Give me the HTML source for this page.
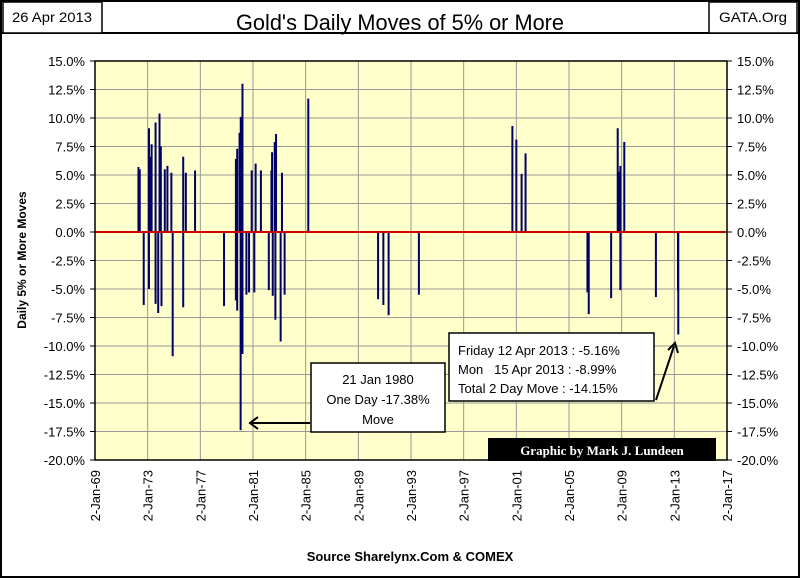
<!DOCTYPE html>
<html><head><meta charset="utf-8"><style>
body{margin:0;background:#fff}
svg{display:block;font-family:"Liberation Sans",sans-serif}
</style></head><body>
<svg id="chart" width="800" height="580" viewBox="0 0 800 580">
<rect x="0" y="0" width="800" height="580" fill="#fff"/>
<rect x="1" y="1" width="798" height="576" fill="none" stroke="#000" stroke-width="2"/>
<line x1="0" y1="33" x2="800" y2="33" stroke="#000" stroke-width="2"/>
<rect x="3" y="2" width="99" height="31" fill="#fff" stroke="#000" stroke-width="1.5"/>
<text x="52" y="22" font-size="14" text-anchor="middle" textLength="80" lengthAdjust="spacingAndGlyphs">26 Apr 2013</text>
<rect x="709" y="2" width="88" height="31" fill="#fff" stroke="#000" stroke-width="1.5"/>
<text x="753" y="22" font-size="14" text-anchor="middle" textLength="68" lengthAdjust="spacingAndGlyphs">GATA.Org</text>
<text x="400" y="30" font-size="22" text-anchor="middle" textLength="328" lengthAdjust="spacingAndGlyphs">Gold's Daily Moves of 5% or More</text>
<rect x="95" y="61" width="632" height="399" fill="#ffffcc"/>
<g id="grid"></g>
<g id="bars"></g>
<line id="zero" stroke="#cc0000" stroke-width="2"/>
<rect x="95" y="61" width="632" height="399" fill="none" stroke="#000" stroke-width="1.5"/>
<g id="labels" font-size="13"></g>
<text transform="translate(26,260) rotate(-90)" font-size="12" font-weight="bold" text-anchor="middle">Daily 5% or More Moves</text>
<text x="410" y="561" font-size="13" font-weight="bold" text-anchor="middle">Source Sharelynx.Com &amp; COMEX</text>
<rect x="311" y="363" width="134" height="69" fill="#fff" stroke="#000" stroke-width="1.5"/>
<text x="378" y="384" font-size="13" text-anchor="middle">21 Jan 1980</text>
<text x="378" y="404" font-size="13" text-anchor="middle">One Day -17.38%</text>
<text x="378" y="424" font-size="13" text-anchor="middle">Move</text>
<line x1="310" y1="423" x2="252" y2="423" stroke="#000" stroke-width="2"/>
<polyline points="258,417 250,423 258,429" fill="none" stroke="#000" stroke-width="2"/>
<rect x="449" y="333" width="205" height="68" fill="#fff" stroke="#000" stroke-width="1.5"/>
<text x="458" y="355" font-size="13">Friday 12 Apr 2013 : -5.16%</text>
<text x="458" y="374" font-size="13">Mon &#160;&#160;15 Apr 2013 : -8.99%</text>
<text x="458" y="393" font-size="13">Total 2 Day Move : -14.15%</text>
<line x1="656" y1="400" x2="674" y2="346" stroke="#000" stroke-width="2"/>
<polyline points="668,350 675,343 678,353" fill="none" stroke="#000" stroke-width="2"/>
<rect x="488" y="438" width="228" height="23" fill="#000"/>
<text x="602" y="455" font-size="13" font-weight="bold" fill="#fff" text-anchor="middle" font-family="Liberation Serif, serif">Graphic by Mark J. Lundeen</text>
</svg>
<script>
const dates = [1972.3,1972.4,1973.1,1973.2,1973.3,1973.6,1973.9,1974.0,1974.3,1974.5,1974.8,1975.7,1975.9,1976.6,1979.7,1979.8,1979.98,1980.07,1980.2,1980.9,1981.2,1981.6,1982.4,1982.45,1982.65,1982.75,1983.2,1985.2,
1972.7,1973.1,1973.6,1973.8,1974.05,1974.9,1975.7,1978.8,1979.7,1979.8,1980.06,1980.2,1980.5,1980.7,1981.1,1982.2,1982.5,1982.7,1983.1,1983.4,
1990.5,1990.9,1991.3,1993.6,2000.7,2001.0,2001.4,2001.7,2006.4,2006.5,2008.2,2008.7,2008.8,2008.9,2009.2,2008.9,2011.6,2013.28,2013.3];
const moves = [5.7,5.5,9.1,6.6,7.7,9.6,10.4,7.5,5.5,5.8,5.2,6.6,5.2,5.4,6.4,7.3,8.7,10.1,13.0,5.4,6.0,5.4,5.4,7.0,7.9,8.6,5.2,11.7,
-6.4,-5.0,-6.3,-7.1,-6.5,-10.9,-6.6,-6.5,-6.0,-6.9,-17.38,-10.7,-5.5,-5.3,-5.3,-5.1,-5.6,-7.7,-9.6,-5.5,
-5.9,-6.4,-7.3,-5.5,9.3,8.1,5.1,6.9,-5.3,-7.2,-5.8,9.1,5.3,5.8,7.9,-5.1,-5.7,-5.16,-8.99];
const yTicks = [15,12.5,10,7.5,5,2.5,0,-2.5,-5,-7.5,-10,-12.5,-15,-17.5,-20];
const xTicks = [1969,1973,1977,1981,1985,1989,1993,1997,2001,2005,2009,2013,2017];
const xTickLabels = ['2-Jan-69','2-Jan-73','2-Jan-77','2-Jan-81','2-Jan-85','2-Jan-89','2-Jan-93','2-Jan-97','2-Jan-01','2-Jan-05','2-Jan-09','2-Jan-13','2-Jan-17'];
const L=95,R=727,T=61,B=460;
const xS=v=>L+(v-1969)/(2017-1969)*(R-L);
const yS=v=>T+(15-v)/35*(B-T);
const NS='http://www.w3.org/2000/svg';
function mk(tag,attrs,parent){const e=document.createElementNS(NS,tag);for(const k in attrs)e.setAttribute(k,attrs[k]);parent.appendChild(e);return e;}
const grid=document.getElementById('grid'),bars=document.getElementById('bars'),labels=document.getElementById('labels');
yTicks.forEach(t=>{
  const y=yS(t);
  const g=mk('line',{x1:L,x2:R,y1:y,y2:y,stroke:'#999','stroke-width':1},grid);
  
  
  mk('line',{x1:L-5,x2:L,y1:y,y2:y,stroke:'#000'},grid);
  mk('line',{x1:R,x2:R+5,y1:y,y2:y,stroke:'#000'},grid);
  const s=t.toFixed(1)+'%';
  const a=mk('text',{x:L-10,y:y+5,'text-anchor':'end'},labels);a.textContent=s;
  
  
  const b=mk('text',{x:R+10,y:y+5},labels);b.textContent=s;
  
  
});
xTicks.forEach((t,i)=>{
  const x=xS(t);
  const g=mk('line',{x1:x,x2:x,y1:T,y2:B,stroke:'#999','stroke-width':1},grid);
  
  
  const tx=mk('text',{transform:`translate(${x+5},${B+10}) rotate(-90)`,'text-anchor':'end'},labels);
  tx.textContent=xTickLabels[i];
  
  
});
dates.forEach((d,i)=>{
  const x=xS(d),y0=yS(0),y1=yS(moves[i]);
  const b=mk('line',{x1:x,x2:x,y1:y0,y2:y1,stroke:'#000066','stroke-width':2},bars);
  
  
});
const z=document.getElementById('zero');
z.setAttribute('x1',L);z.setAttribute('x2',R);z.setAttribute('y1',yS(0));z.setAttribute('y2',yS(0));
</script>
</body></html>
